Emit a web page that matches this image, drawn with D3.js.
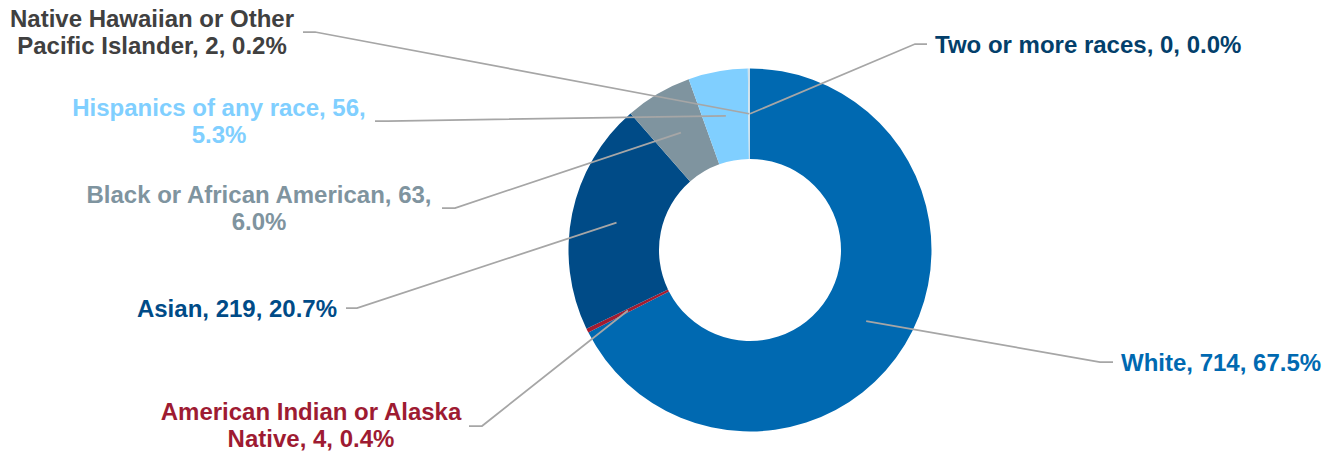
<!DOCTYPE html>
<html>
<head>
<meta charset="utf-8">
<script src="https://cdn.jsdelivr.net/npm/d3@7"></script>
<style>
html,body{margin:0;padding:0;background:#fff;}
svg{display:block;}
text{font-family:"Liberation Sans",Arial,sans-serif;font-weight:bold;}
</style>
</head>
<body>
<svg id="chart" width="1326" height="453"></svg>
<script>
// ---- data ----
const categories = ["White","American Indian or Alaska Native","Asian","Black or African American","Hispanics of any race","Native Hawaiian or Other Pacific Islander","Two or more races"];
const counts = [714, 4, 219, 63, 56, 2, 0];
const percents = ["67.5%","0.4%","20.7%","6.0%","5.3%","0.2%","0.0%"];
const sliceColors = ["#0069b1","#a31c30","#004b87","#7f949f","#80cfff","#cfe0ea","#003f6e"];
const labelColors = ["#0069b1","#9e1b32","#004b87","#7f949f","#80cfff","#404040","#033f6b"];
// label text lines (as wrapped in the reference)
const labelLines = [
  ["White, 714, 67.5%"],
  ["American Indian or Alaska","Native, 4, 0.4%"],
  ["Asian, 219, 20.7%"],
  ["Black or African American, 63,","6.0%"],
  ["Hispanics of any race, 56,","5.3%"],
  ["Native Hawaiian or Other","Pacific Islander, 2, 0.2%"],
  ["Two or more races, 0, 0.0%"]
];

// ---- layout ----
const W = 1326, H = 453;
const cx = 750, cy = 250, rOuter = 181.5, rInner = 91;
// label layout: text anchor x, anchor type, first baseline y, leader start x, elbow x, leader y
const labelLayout = [
  {x:1121, anchor:"start",  y:371, lx:1113, ex:1100, ly:362},
  {x:311,  anchor:"middle", y:420, lx:469,  ex:482,  ly:426},
  {x:237,  anchor:"middle", y:317, lx:346,  ex:357,  ly:308},
  {x:259,  anchor:"middle", y:203, lx:442,  ex:455,  ly:208},
  {x:219,  anchor:"middle", y:116, lx:375,  ex:388,  ly:121},
  {x:152,  anchor:"middle", y:27,  lx:303,  ex:315,  ly:32},
  {x:935,  anchor:"start",  y:53,  lx:927,  ex:915,  ly:44}
];
const fontSize = 24, lineH = 27.3;

const data = categories.map((c,i)=>({cat:c, value:counts[i], i}));

const svg = d3.select("#chart");
const g = svg.append("g").attr("transform",`translate(${cx},${cy})`);

const pie = d3.pie().sort(null).value(d=>d.value).startAngle(0).endAngle(2*Math.PI);
const arcs = pie(data);
const arc = d3.arc().innerRadius(rInner).outerRadius(rOuter);
const mid = d3.arc().innerRadius((rInner+rOuter)/2).outerRadius((rInner+rOuter)/2);

g.selectAll("path.slice").data(arcs).enter().append("path")
  .attr("class","slice")
  .attr("d",arc)
  .attr("fill",d=>sliceColors[d.data.i]);

// leader lines
const lines = svg.append("g");
arcs.forEach(a=>{
  const L = labelLayout[a.data.i];
  const c = mid.centroid(a);
  const pts = [[L.lx,L.ly],[L.ex,L.ly],[cx+c[0],cy+c[1]]];
  lines.append("path")
    .attr("d",d3.line()(pts))
    .attr("fill","none")
    .attr("stroke","#a6a6a6")
    .attr("stroke-width",1.75);
});

// labels
const labels = svg.append("g");
arcs.forEach(a=>{
  const i = a.data.i, L = labelLayout[i];
  const t = labels.append("text")
    .attr("x",L.x).attr("y",L.y)
    .attr("text-anchor",L.anchor)
    .attr("font-size",fontSize)
    .attr("fill",labelColors[i]);
  labelLines[i].forEach((s,k)=>{
    t.append("tspan").attr("x",L.x).attr("y",L.y+k*lineH).text(s);
  });
});
</script>
</body>
</html>
